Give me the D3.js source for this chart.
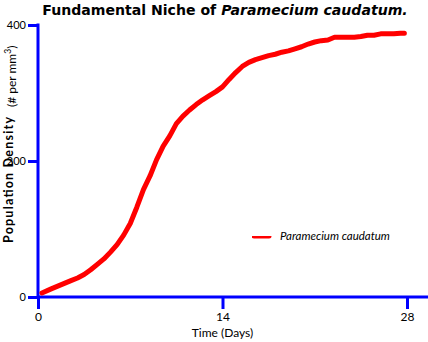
<!DOCTYPE html>
<html>
<head>
<meta charset="utf-8">
<script src="https://cdn.jsdelivr.net/npm/d3@7"></script>
<style>
  html, body { margin: 0; padding: 0; background: #fff; }
  svg { display: block; font-family: Lato, "Open Sans", sans-serif; }
</style>
</head>
<body>
<svg id="chart" width="428" height="342"></svg>
<script>
// Population density of Paramecium caudatum grown alone (days vs. # per mm^3)
const days = [0.3, 1, 1.5, 2, 2.5, 3, 3.5, 4, 4.5, 5, 5.5, 6, 6.5, 7, 7.5, 8, 8.5, 9, 9.5, 10,
  10.5, 11, 11.5, 12, 12.5, 13, 13.5, 14, 14.5, 15, 15.5, 16, 16.5, 17, 17.5, 18, 18.5, 19, 19.5, 20,
  20.5, 21, 21.5, 22, 22.5, 23, 23.5, 24, 24.5, 25, 25.5, 26, 26.5, 27, 27.5, 27.8];
const density = [6, 12, 16, 20, 24, 28, 33, 40, 48, 56, 66, 77, 91, 108, 132, 158, 178, 202, 222, 237,
  255, 266, 275, 283, 290, 296, 302, 309, 320, 330, 339, 345, 349, 352, 355, 357, 360, 362, 365, 368,
  372, 375, 377, 378, 382, 382, 382, 382, 383, 385, 385, 387, 387, 387, 388, 388];
const xTicks = [0, 14, 28];
const yTicks = [0, 200, 400];
const seriesName = "Paramecium caudatum";

const svg = d3.select("#chart");
const blue = "#0000ff";
const red = "#ff0000";

const x = d3.scaleLinear().domain([0, 28]).range([38, 407]);
const y = d3.scaleLinear().domain([0, 400]).range([297, 25]);

// soft edge on the red strokes
const defs = svg.append("defs");
defs.append("filter").attr("id", "soft")
  .attr("filterUnits", "userSpaceOnUse")
  .attr("x", 0).attr("y", 0).attr("width", 428).attr("height", 342)
  .append("feGaussianBlur").attr("stdDeviation", 0.7);

// fit a text node to a given width by scaling its font size
function fitWidth(sel, width) {
  const fs = parseFloat(sel.style("font-size"));
  const w = sel.node().getComputedTextLength();
  sel.style("font-size", (fs * width / w) + "px");
}

// title
const title = svg.append("text")
  .attr("x", 225).attr("y", 15)
  .attr("text-anchor", "middle")
  .style("font-family", "'DejaVu Sans', sans-serif")
  .style("font-weight", 700)
  .style("font-size", "14px");
title.append("tspan").text("Fundamental Niche of ");
title.append("tspan").style("font-style", "italic").text("Paramecium caudatum.");
fitWidth(title, 366);

// y axis
const yAxis = svg.append("g")
  .attr("transform", `translate(${x(0)},0)`)
  .call(d3.axisLeft(y).tickValues(yTicks).tickSize(10).tickSizeOuter(0).tickPadding(2));
yAxis.select(".domain").remove();
yAxis.selectAll(".tick line").attr("stroke", blue).attr("stroke-width", 3);
yAxis.selectAll(".tick text").style("font-size", "11px").style("font-family", "Lato, sans-serif").attr("fill", "#000");
svg.append("line")
  .attr("x1", x(0)).attr("x2", x(0))
  .attr("y1", y(400) - 1.5).attr("y2", y(0) + 1.5)
  .attr("stroke", blue).attr("stroke-width", 3);

// x axis
const xAxis = svg.append("g")
  .attr("transform", `translate(0,${y(0)})`)
  .call(d3.axisBottom(x).tickValues(xTicks).tickSize(12).tickSizeOuter(0).tickPadding(3));
xAxis.select(".domain").remove();
xAxis.selectAll(".tick line").attr("stroke", blue).attr("stroke-width", 3);
xAxis.selectAll(".tick text").style("font-size", "12px").style("font-family", "Lato, sans-serif").attr("fill", "#000");
svg.append("line")
  .attr("x1", x(0)).attr("x2", 428)
  .attr("y1", y(0)).attr("y2", y(0))
  .attr("stroke", blue).attr("stroke-width", 3);

// axis titles
svg.append("text")
  .attr("x", x(14)).attr("y", 337)
  .attr("text-anchor", "middle")
  .style("font-size", "12px")
  .text("Time (Days)");

svg.append("text")
  .attr("transform", "translate(13,243) rotate(-90)")
  .style("font-weight", 700)
  .style("font-size", "12.5px")
  .attr("textLength", 126)
  .attr("lengthAdjust", "spacing")
  .text("Population Density");

const yUnit = svg.append("text")
  .attr("transform", "translate(16,107) rotate(-90)")
  .style("font-size", "12px");
yUnit.append("tspan").text("(#  per mm");
yUnit.append("tspan").attr("dy", -5).style("font-size", "8.5px").text("3");
yUnit.append("tspan").attr("dy", 5).text(")");

// data line
const line = d3.line().x((d, i) => x(days[i])).y(d => y(d));
svg.append("path")
  .datum(density)
  .attr("d", line)
  .attr("fill", "none")
  .attr("stroke", red)
  .attr("stroke-width", 5)
  .attr("stroke-linecap", "round")
  .attr("stroke-linejoin", "round")
  .attr("filter", "url(#soft)");

// legend
const legend = svg.append("g").attr("transform", "translate(252,236)");
legend.append("line")
  .attr("x1", 2).attr("x2", 17).attr("y1", 0).attr("y2", 0)
  .attr("stroke", red).attr("stroke-width", 5)
  .attr("stroke-linecap", "round")
  .attr("filter", "url(#soft)");
legend.append("text")
  .attr("x", 28).attr("y", 4)
  .style("font-style", "italic")
  .style("font-size", "11.5px")
  .text(seriesName);
</script>
</body>
</html>
